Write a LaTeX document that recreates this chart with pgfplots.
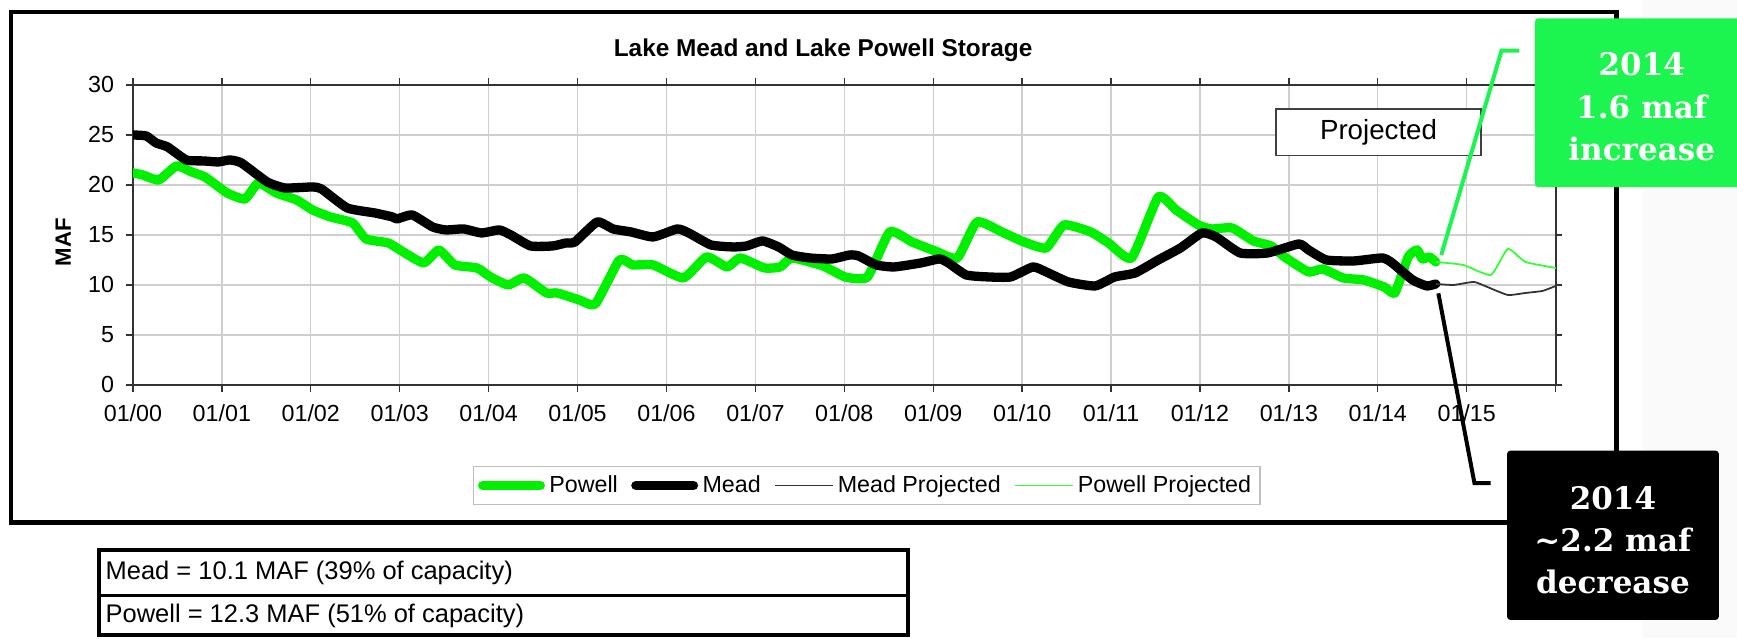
\documentclass[border=0pt]{standalone}
\usepackage{fontspec}
\setmainfont{Liberation Sans}
\newfontfamily\calloutfont{DejaVu Serif}
\usepackage{pgfplots}
\pgfplotsset{compat=1.18}
\definecolor{powellgreen}{HTML}{00F000}
\definecolor{powellproj}{HTML}{33FF33}
\definecolor{meadproj}{HTML}{333333}
\definecolor{calloutgreen}{HTML}{1CF550}
\definecolor{gridgray}{HTML}{CFCFCF}

\begin{document}
\begin{tikzpicture}[x=1pt,y=1pt]
\path[use as bounding box] (0,0) rectangle (784,288);
% faint slide texture strip on the right
\fill[black!2] (741.5,0) rectangle (784,288);

\begin{axis}[
    at={(60pt,114.25pt)}, anchor=south west,
    scale only axis, width=642.2pt, height=135.4pt,
    xmin=2000, xmax=2016, ymin=0, ymax=30,
    xtick={2000,...,2016},
    xticklabels={01/00,01/01,01/02,01/03,01/04,01/05,01/06,01/07,01/08,01/09,01/10,01/11,01/12,01/13,01/14,01/15,},
    ytick={0,5,...,30},
    tick align=outside, major tick length=3pt,
    tick style={black!80, line width=0.6pt},
    grid=major, major grid style={gridgray, line width=0.6pt},
    axis line style={black!80, line width=1pt},
    ticklabel style={font=\fontsize{10.5}{12}\selectfont},
    /pgf/number format/assume math mode=true,
    xticklabel style={yshift=-2.5pt},
    yticklabel style={xshift=-2pt},
    legend columns=4,
    legend image code/.code={\draw[#1] (0pt,0pt) -- (26pt,0pt);},
    legend style={at={(axis description cs:0.5158,-0.335)}, anchor=center,
        draw=black!25, line width=0.6pt,
        font=\fontsize{10.5}{12}\selectfont, inner sep=2pt,
        /tikz/every odd column/.append style={column sep=0pt},
        /tikz/every even column/.append style={column sep=4pt}},
]
\addplot[powellgreen, line width=4.2pt, line cap=round, line join=round, smooth, tension=0.3] coordinates {
(2000.00,21.2) (2000.11,21.0) (2000.29,20.5) (2000.49,21.9) (2000.66,21.3) (2000.81,20.8)
(2001.06,19.2) (2001.26,18.6) (2001.41,20.2) (2001.61,19.2) (2001.84,18.5) (2002.02,17.5)
(2002.22,16.8) (2002.47,16.2) (2002.62,14.6) (2002.87,14.2) (2003.04,13.3) (2003.27,12.2)
(2003.44,13.5) (2003.62,12.0) (2003.87,11.7) (2004.02,10.8) (2004.22,10.0) (2004.40,10.7)
(2004.65,9.2) (2004.77,9.2) (2005.02,8.5) (2005.20,8.1) (2005.47,12.5) (2005.62,12.0)
(2005.85,12.0) (2006.19,10.7) (2006.45,12.8) (2006.68,11.8) (2006.83,12.7) (2007.10,11.7)
(2007.28,11.8) (2007.41,12.7) (2007.76,11.9) (2008.01,10.8) (2008.26,10.8) (2008.51,15.3)
(2008.76,14.3) (2009.02,13.4) (2009.27,12.7) (2009.49,16.3) (2009.77,15.3) (2010.02,14.3)
(2010.27,13.7) (2010.47,16.0) (2010.77,15.3) (2010.97,14.2) (2011.23,12.7) (2011.53,18.8)
(2011.73,17.5) (2011.98,16.0) (2012.13,15.6) (2012.36,15.7) (2012.60,14.4) (2012.80,13.9)
(2012.95,12.8) (2013.22,11.3) (2013.38,11.6) (2013.61,10.7) (2013.84,10.5) (2014.07,9.8)
(2014.19,9.2) (2014.34,12.8) (2014.44,13.5) (2014.50,12.6) (2014.58,12.8) (2014.65,12.3)
};
\addlegendentry{Powell}
\addplot[black, line width=4.2pt, line cap=round, line join=round, smooth, tension=0.3] coordinates {
(2000.00,25.0) (2000.15,24.9) (2000.26,24.2) (2000.39,23.8) (2000.60,22.5) (2000.80,22.4)
(2000.96,22.3) (2001.09,22.5) (2001.22,22.2) (2001.51,20.3) (2001.71,19.7) (2002.02,19.8)
(2002.12,19.6) (2002.41,17.7) (2002.72,17.2) (2002.92,16.8) (2002.97,16.6) (2003.14,17.0)
(2003.37,15.8) (2003.52,15.5) (2003.72,15.6) (2003.92,15.2) (2004.12,15.5) (2004.25,15.0)
(2004.47,13.9) (2004.72,13.9) (2004.87,14.2) (2004.97,14.3) (2005.22,16.3) (2005.40,15.6)
(2005.60,15.3) (2005.85,14.8) (2006.12,15.6) (2006.25,15.2) (2006.50,14.0) (2006.75,13.8)
(2006.90,13.9) (2007.08,14.4) (2007.26,13.8) (2007.41,13.0) (2007.61,12.7) (2007.86,12.6)
(2008.06,13.0) (2008.16,12.9) (2008.36,12.0) (2008.56,11.8) (2008.86,12.2) (2009.07,12.6)
(2009.17,12.2) (2009.37,11.0) (2009.62,10.8) (2009.87,10.8) (2010.12,11.8) (2010.27,11.3)
(2010.52,10.3) (2010.82,9.9) (2011.04,10.8) (2011.27,11.2) (2011.53,12.5) (2011.78,13.7)
(2012.02,15.2) (2012.18,14.8) (2012.45,13.2) (2012.76,13.2) (2013.11,14.1) (2013.22,13.5)
(2013.42,12.5) (2013.73,12.4) (2014.05,12.7) (2014.16,12.2) (2014.39,10.5) (2014.55,9.9)
(2014.65,10.1)
};
\addlegendentry{Mead}
\addplot[meadproj, line width=0.8pt, line join=round, smooth, tension=0.3] coordinates {
(2014.65,10.1) (2014.85,10.0) (2015.08,10.3) (2015.23,9.8) (2015.46,9.0) (2015.66,9.2)
(2015.85,9.4) (2016.00,9.9)
};
\addlegendentry{Mead Projected}
\addplot[powellproj, line width=0.8pt, line join=round, smooth, tension=0.3] coordinates {
(2014.65,12.3) (2014.96,12.0) (2015.27,11.0) (2015.46,13.6) (2015.66,12.3) (2016.00,11.7)
};
\addlegendentry{Powell Projected}
\end{axis}

% title and axis label
\node[font=\fontsize{11}{13}\selectfont\bfseries] at (371.5,265.1) {Lake Mead and Lake Powell Storage};
\node[font=\fontsize{10}{12}\selectfont\bfseries, rotate=90] at (28.6,178.6) {MAF};

% "Projected" label box
\draw[black!75, line width=0.8pt, fill=white] (575.8,217.8) rectangle (668.5,238.7);
\node[font=\fontsize{12.5}{14}\selectfont] at (622.2,228.3) {Projected};

% chart frame
\draw[black, line width=2pt] (5,52.2) rectangle (729.6,282.7);

% summary table
\draw[black, line width=1.8pt] (44.6,1.2) rectangle (410,39.7);
\draw[black, line width=1pt] (44.6,19.2) -- (410,19.2);
\node[anchor=west, inner sep=0pt, font=\fontsize{11.5}{13}\selectfont] at (47.5,29.3) {Mead = 10.1 MAF (39\% of capacity)};
\node[anchor=west, inner sep=0pt, font=\fontsize{11.5}{13}\selectfont] at (47.5,9.9) {Powell = 12.3 MAF (51\% of capacity)};

% callouts
\draw[calloutgreen, line width=1.8pt] (650.5,172.9) -- (677.7,265.1) -- (685.6,265.1);
\draw[black, line width=1.8pt] (649.2,155.6) -- (665.5,69.9) -- (672.8,69.9);
\fill[calloutgreen, rounded corners=1.5pt] (692.8,203.5) rectangle (790,279.7);
\node[text=white, align=center, font=\calloutfont\bfseries\fontsize{14}{19}\selectfont] at (741,239.8) {2014\\1.6 maf\\increase};
\fill[black, rounded corners=1.5pt] (680.2,8.2) rectangle (775.8,84.6);
\node[text=white, align=center, font=\calloutfont\bfseries\fontsize{14}{19}\selectfont] at (728,44) {2014\\\textasciitilde2.2 maf\\decrease};
\end{tikzpicture}
\end{document}
